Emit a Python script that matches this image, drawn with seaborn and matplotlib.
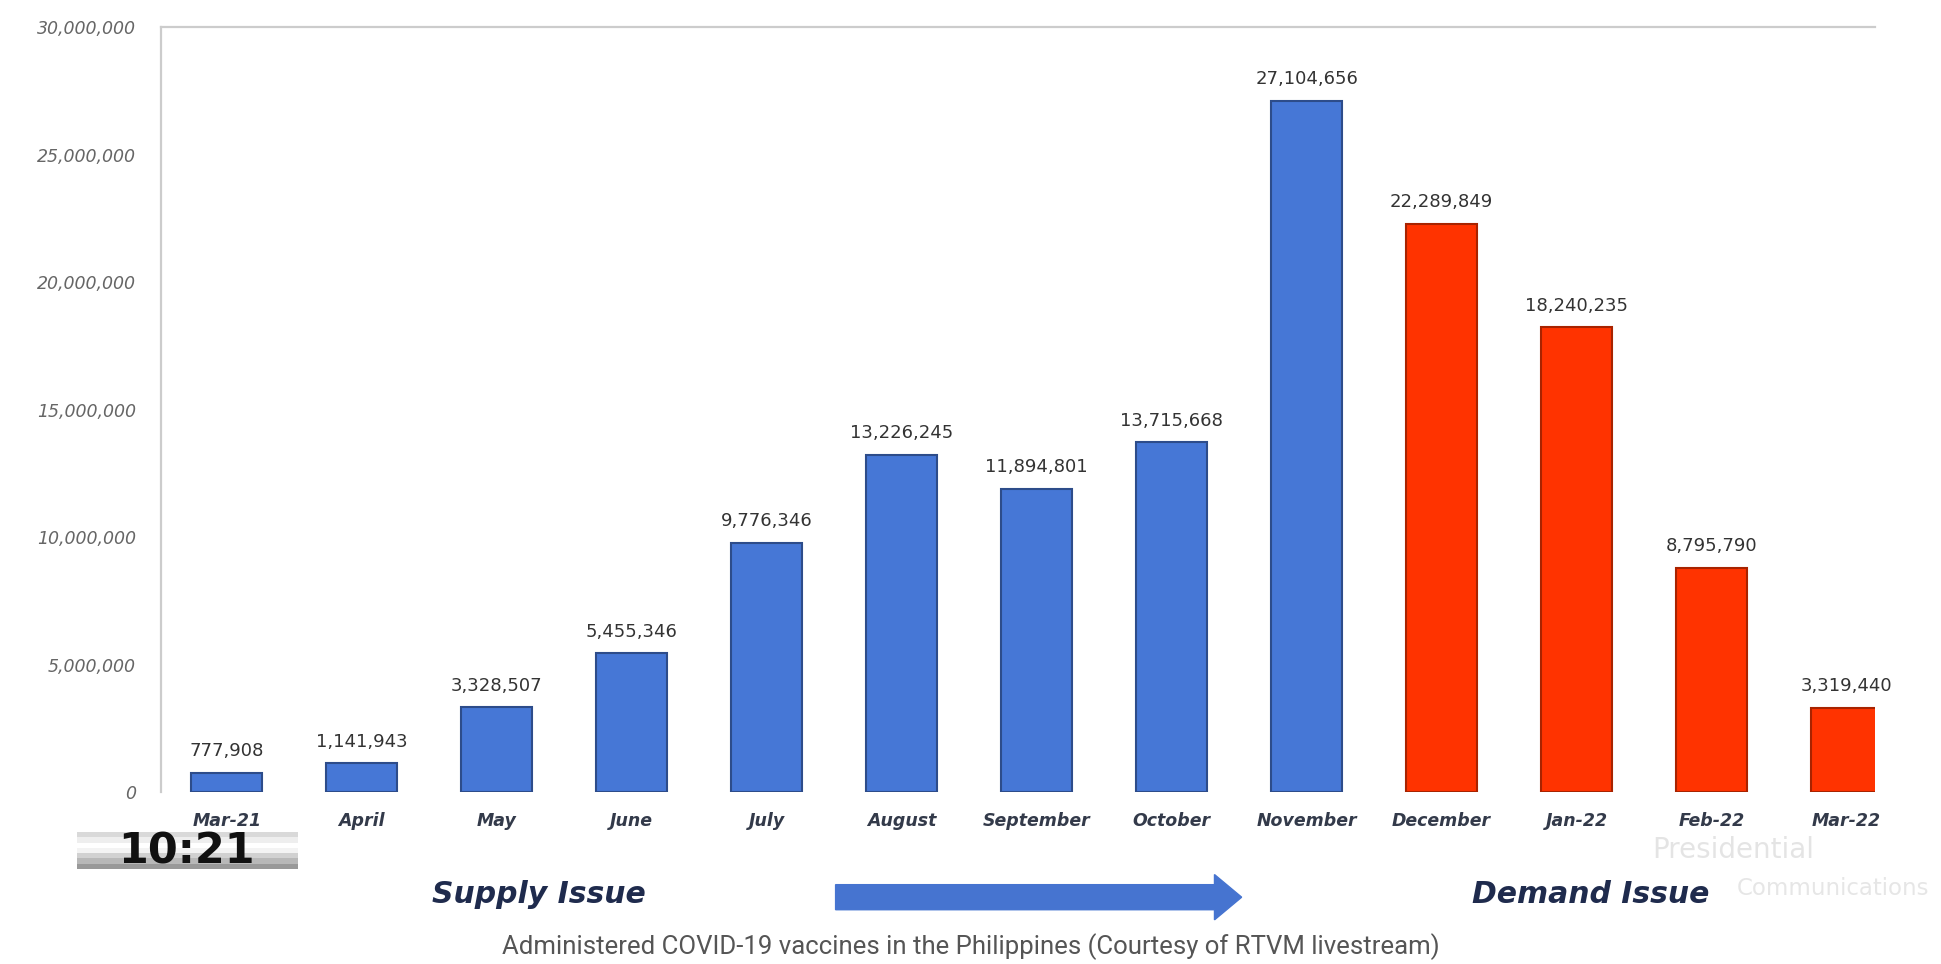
import numpy as np
import pandas as pd
import matplotlib
matplotlib.use("Agg")
import matplotlib.pyplot as plt
import seaborn as sns
from matplotlib.patches import FancyArrow

# data
months = ["Mar-21", "April", "May", "June", "July", "August", "September",
          "October", "November", "December", "Jan-22", "Feb-22", "Mar-22"]
doses = [777908, 1141943, 3328507, 5455346, 9776346, 13226245, 11894801,
         13715668, 27104656, 22289849, 18240235, 8795790, 3319440]
phase = ["Supply"] * 9 + ["Demand"] * 4
y_ticks = [0, 5000000, 10000000, 15000000, 20000000, 25000000, 30000000]

df = pd.DataFrame({"month": months, "doses": doses, "phase": phase})

sns.set_style("white")
plt.rcParams["font.family"] = ["DejaVu Sans"]

fig = plt.figure(figsize=(19.41, 9.64), dpi=100)
ax = fig.add_axes([0.083, 0.178, 0.883, 0.794])

sns.barplot(data=df, x="month", y="doses", hue="phase", dodge=False,
            palette={"Supply": "#4677d6", "Demand": "#ff3300"}, saturation=1,
            width=0.53, legend=False, ax=ax)

edge = {"Supply": "#2d4c8a", "Demand": "#a82300"}
for container, name in zip(ax.containers, ["Supply", "Demand"]):
    for bar in container:
        bar.set_edgecolor(edge[name])
        bar.set_linewidth(1.5)
    ax.bar_label(container, labels=[f"{v:,.0f}" if v > 0 else "" for v in container.datavalues],
                 padding=9, fontsize=13, color="#333333")

ax.set_ylim(0, 30000000)
ax.set_xlim(-0.486, 12.21)
ax.set_yticks(y_ticks)
ax.set_yticklabels([f"{v:,}" for v in y_ticks], fontstyle="italic", color="#666666", fontsize=12.5)
ax.tick_params(axis="y", length=0, pad=18)
ax.tick_params(axis="x", length=0, pad=14)
for lbl in ax.get_xticklabels():
    lbl.set_fontstyle("italic")
    lbl.set_fontweight("semibold")
    lbl.set_fontsize(12.5)
    lbl.set_color("#333a4a")
ax.set_xlabel("")
ax.set_ylabel("")

for side in ["bottom", "right"]:
    ax.spines[side].set_visible(False)
for side in ["left", "top"]:
    ax.spines[side].set_color("#cccccc")
    ax.spines[side].set_linewidth(1.6)

# time stamp box from the livestream overlay
box = fig.add_axes([0.0395, 0.099, 0.1135, 0.038])
grad = np.array([0.85, 0.93, 1.0, 0.95, 0.82, 0.72, 0.6]).reshape(-1, 1)
box.imshow(grad, cmap="gray", vmin=0, vmax=1, aspect="auto", extent=[0, 1, 0, 1])
box.set_axis_off()
box.text(0.5, 0.46, "10:21", ha="center", va="center", fontsize=31,
         fontweight="bold", color="#111111", transform=box.transAxes)

# annotations below the chart
fig.text(0.2774, 0.072, "Supply Issue", ha="center", va="center", fontsize=21.5,
         fontweight="bold", fontstyle="italic", color="#1f2b4d")
fig.text(0.8195, 0.072, "Demand Issue", ha="center", va="center", fontsize=21.5,
         fontweight="bold", fontstyle="italic", color="#1f2b4d")
fig.patches.append(FancyArrow(0.4305, 0.0693, 0.2092 - 0.014, 0, width=0.026,
                              head_width=0.047, head_length=0.014,
                              length_includes_head=False, color="#4674d0",
                              transform=fig.transFigure, figure=fig))

# watermark
fig.text(0.893, 0.118, "Presidential", ha="center", va="center", fontsize=20,
         color="#e2e2e2", alpha=0.9)
fig.text(0.994, 0.078, "Communications", ha="right", va="center", fontsize=16.5,
         color="#e2e2e2", alpha=0.85)

fig.text(0.5, 0.018, "Administered COVID-19 vaccines in the Philippines (Courtesy of RTVM livestream)",
         ha="center", va="center", fontsize=18.5, color="#555555", family=["Roboto", "DejaVu Sans"])

fig.savefig("out.png", dpi=100)
